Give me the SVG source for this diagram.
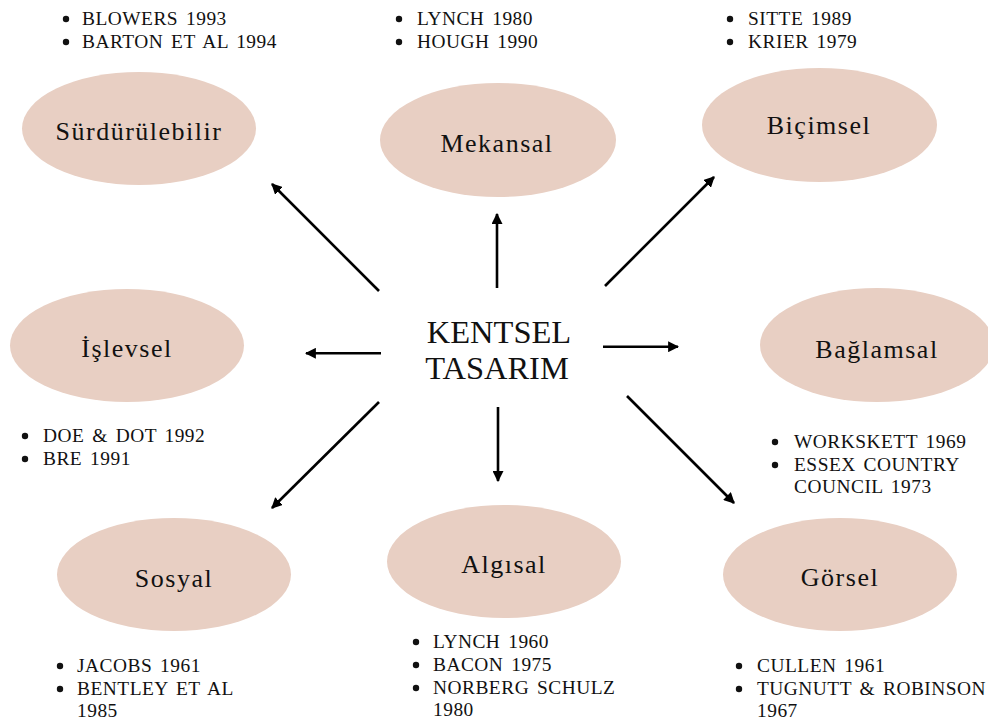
<svg xmlns="http://www.w3.org/2000/svg" width="988" height="722" viewBox="0 0 988 722" font-family="'Liberation Serif', 'Times New Roman', Times, serif">
<defs>
<style>
text{font-family:'Liberation Serif','Times New Roman',Times,serif}
.n{fill:#e8cfc3}
.lbl{font-size:26px;letter-spacing:1.5px;fill:#111;text-anchor:middle}
.ctr{font-size:32.5px;fill:#111;text-anchor:middle}
.li{font-size:19.4px;letter-spacing:0.5px;word-spacing:2.5px;fill:#111}
.b{fill:#111}
.c{stroke:#000;stroke-width:2.6;fill:none;marker-end:url(#ah)}
</style>
<marker id="ah" viewBox="0 0 10 10" refX="9" refY="5" markerWidth="11" markerHeight="11" markerUnits="userSpaceOnUse" orient="auto">
<path d="M0,0 L10,5 L0,10 z" fill="#000"/>
</marker>
</defs>
<rect width="988" height="722" fill="#fff"/>

<g id="center">
<text class="ctr" x="499" y="343">KENTSEL</text>
<text class="ctr" x="497" y="379">TASARIM</text>
</g>

<g id="connectors">
<line class="c" x1="379" y1="291" x2="272" y2="184"/>
<line class="c" x1="497" y1="288" x2="497" y2="214"/>
<line class="c" x1="605" y1="286" x2="714" y2="177"/>
<line class="c" x1="381" y1="353.3" x2="306" y2="353.3"/>
<line class="c" x1="603" y1="346.7" x2="678" y2="346.7"/>
<line class="c" x1="379" y1="402" x2="272" y2="508"/>
<line class="c" x1="498" y1="407" x2="498" y2="481"/>
<line class="c" x1="627" y1="396" x2="734" y2="503"/>
</g>

<g id="surdurulebilir">
<ellipse class="n" cx="139" cy="128.5" rx="117" ry="56.5"/>
<text class="lbl" x="139" y="140">Sürdürülebilir</text>
<circle class="b" cx="66" cy="19" r="3.2"/>
<circle class="b" cx="66" cy="42" r="3.2"/>
<text class="li" x="82" y="25">BLOWERS 1993</text>
<text class="li" x="82" y="48">BARTON ET AL 1994</text>
</g>

<g id="mekansal">
<ellipse class="n" cx="498" cy="140" rx="118" ry="57"/>
<text class="lbl" x="497" y="152">Mekansal</text>
<circle class="b" cx="399" cy="19" r="3.2"/>
<circle class="b" cx="399" cy="42" r="3.2"/>
<text class="li" x="417" y="25">LYNCH 1980</text>
<text class="li" x="417" y="48">HOUGH 1990</text>
</g>

<g id="bicimsel">
<ellipse class="n" cx="819.5" cy="125" rx="117.5" ry="57"/>
<text class="lbl" x="819" y="134">Biçimsel</text>
<circle class="b" cx="730" cy="19" r="3.2"/>
<circle class="b" cx="730" cy="42" r="3.2"/>
<text class="li" x="748" y="25">SITTE 1989</text>
<text class="li" x="748" y="48">KRIER 1979</text>
</g>

<g id="islevsel">
<ellipse class="n" cx="127" cy="345.5" rx="117" ry="56.5"/>
<text class="lbl" x="127" y="357">İşlevsel</text>
<circle class="b" cx="25" cy="436" r="3.2"/>
<circle class="b" cx="25" cy="459" r="3.2"/>
<text class="li" x="43" y="442">DOE &amp; DOT 1992</text>
<text class="li" x="43" y="465">BRE 1991</text>
</g>

<g id="baglamsal">
<ellipse class="n" cx="877" cy="345" rx="117" ry="57"/>
<text class="lbl" x="877" y="358">Bağlamsal</text>
<circle class="b" cx="775" cy="442" r="3.2"/>
<circle class="b" cx="775" cy="465" r="3.2"/>
<text class="li" x="794" y="448">WORKSKETT 1969</text>
<text class="li" x="794" y="471">ESSEX COUNTRY</text>
<text class="li" x="794" y="493">COUNCIL 1973</text>
</g>

<g id="sosyal">
<ellipse class="n" cx="174" cy="574.5" rx="117" ry="56.5"/>
<text class="lbl" x="174" y="587">Sosyal</text>
<circle class="b" cx="60" cy="666" r="3.2"/>
<circle class="b" cx="60" cy="689" r="3.2"/>
<text class="li" x="77" y="672">JACOBS 1961</text>
<text class="li" x="77" y="695">BENTLEY ET AL</text>
<text class="li" x="77" y="717">1985</text>
</g>

<g id="algisal">
<ellipse class="n" cx="504" cy="561.5" rx="117" ry="56.5"/>
<text class="lbl" x="504" y="573">Algısal</text>
<circle class="b" cx="416" cy="642" r="3.2"/>
<circle class="b" cx="416" cy="665" r="3.2"/>
<circle class="b" cx="416" cy="688" r="3.2"/>
<text class="li" x="433" y="648">LYNCH 1960</text>
<text class="li" x="433" y="671">BACON 1975</text>
<text class="li" x="433" y="694">NORBERG SCHULZ</text>
<text class="li" x="433" y="716">1980</text>
</g>

<g id="gorsel">
<ellipse class="n" cx="840" cy="574.5" rx="117" ry="56.5"/>
<text class="lbl" x="840" y="586">Görsel</text>
<circle class="b" cx="739" cy="666" r="3.2"/>
<circle class="b" cx="739" cy="689" r="3.2"/>
<text class="li" x="757" y="672">CULLEN 1961</text>
<text class="li" x="757" y="695">TUGNUTT &amp; ROBINSON</text>
<text class="li" x="757" y="717">1967</text>
</g>
</svg>
